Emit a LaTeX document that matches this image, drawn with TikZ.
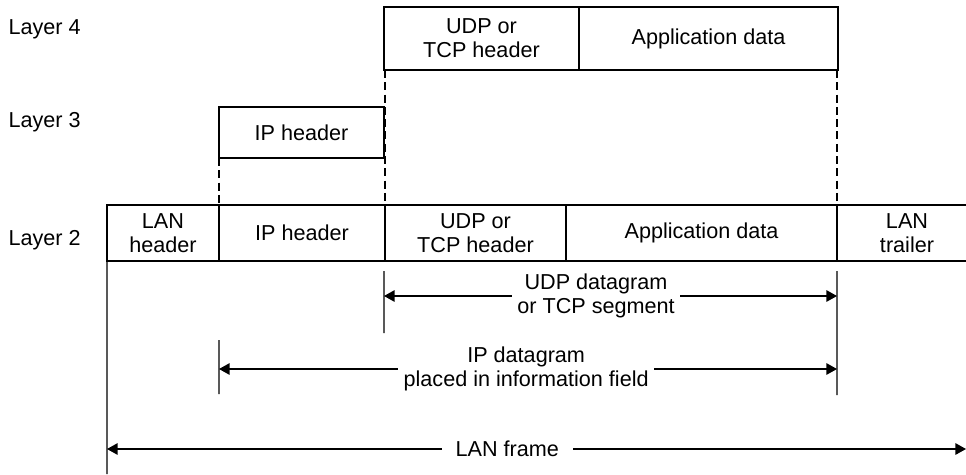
\documentclass[tikz,border=0pt]{standalone}
\usepackage{fontspec}
\setmainfont{Liberation Sans}
\usepackage{tikz}
\usetikzlibrary{arrows.meta,positioning,calc}

\begin{document}
\begin{tikzpicture}[x=0.02cm, y=-0.02cm, line width=0.7pt,
    every node/.style={font=\fontsize{12.3}{13.5}\selectfont},
    field/.style={draw, inner sep=0pt, outer sep=0pt, align=center},
    lay4/.style={field, minimum height=1.26cm},
    lay3/.style={field, minimum height=1.02cm},
    lay2/.style={field, minimum height=1.12cm},
    guide/.style={dash pattern=on 4.5pt off 2.5pt},
    dimarrow/.style={{Triangle[length=6pt,width=6.5pt]}-{Triangle[length=6pt,width=6.5pt]}},
    dimlabel/.style={fill=white, align=center, inner xsep=3pt, inner ysep=1pt}]
  \useasboundingbox (0,0) rectangle (966,474);
  \coordinate (redge) at (966,0);
  % layer names
  \node[anchor=west, inner sep=0pt] (l4) at (8,29) {Layer 4};
  \node[anchor=west, inner sep=0pt] (l3) at (8,122) {Layer 3};
  \node[anchor=west, inner sep=0pt] (l2) at (8,240) {Layer 2};
  % layer 2: the LAN frame
  \node[lay2, minimum width=2.24cm] (lanhdr) at (163,233) {LAN\\header};
  \node[lay2, minimum width=3.32cm] (ip2) at (302,233) {IP header};
  \node[lay2, minimum width=3.62cm] (udp2) at (475.5,233) {UDP or\\TCP header};
  \node[lay2, minimum width=5.42cm] (app2) at (701.5,233) {Application data};
  \draw (app2.north east) -- (app2.north east -| redge)
        (app2.south east) -- (app2.south east -| redge);
  \node[align=center] (lantrl) at (907,233) {LAN\\trailer};
  % layer 4 over the frame, dashed drop lines first
  \draw[guide] (udp2.north west |- 0,70) coordinate (d4l) -- (udp2.north west);
  \draw[guide] (app2.north east |- 0,70) coordinate (d4r) -- (app2.north east);
  \node[lay4, minimum width=3.9cm] (udp4) at (481.5,38.5) {UDP or\\TCP header};
  \node[lay4, minimum width=5.18cm] (app4) at (708.5,38.5) {Application data};
  % layer 3
  \node[lay3, minimum width=3.3cm] (ip3) at (301.5,132.5) {IP header};
  \draw[guide] (ip3.south west) -- (ip2.north west);
  % extension lines
  \coordinate (e1a) at (384,271);  \coordinate (e1b) at (384,333);
  \coordinate (e2a) at (837,271);  \coordinate (e2b) at (837,395);
  \coordinate (e3a) at (219,340);  \coordinate (e3b) at (219,394);
  \coordinate (e4b) at (107,474);
  \draw (e1a) -- (e1b) (e2a) -- (e2b) (e3a) -- (e3b) (lanhdr.south west) -- (e4b);
  % dimension arrows
  \coordinate (udpL) at (384,296);  \coordinate (udpR) at (837,296);
  \coordinate (ipL) at (219,369);   \coordinate (ipR) at (837,369);
  \coordinate (lanL) at (107,449);  \coordinate (lanR) at (966,449);
  \draw[dimarrow] (udpL) -- node[dimlabel, pos=0.468] (udplbl) {UDP datagram\\or TCP segment} (udpR);
  \draw[dimarrow] (ipL) -- node[dimlabel, pos=0.497] (iplbl) {IP datagram\\placed in information field} (ipR);
  \draw[dimarrow] (lanL) -- node[dimlabel, pos=0.466, inner xsep=8pt] (lanlbl) {LAN frame} (lanR);
\end{tikzpicture}
\end{document}
